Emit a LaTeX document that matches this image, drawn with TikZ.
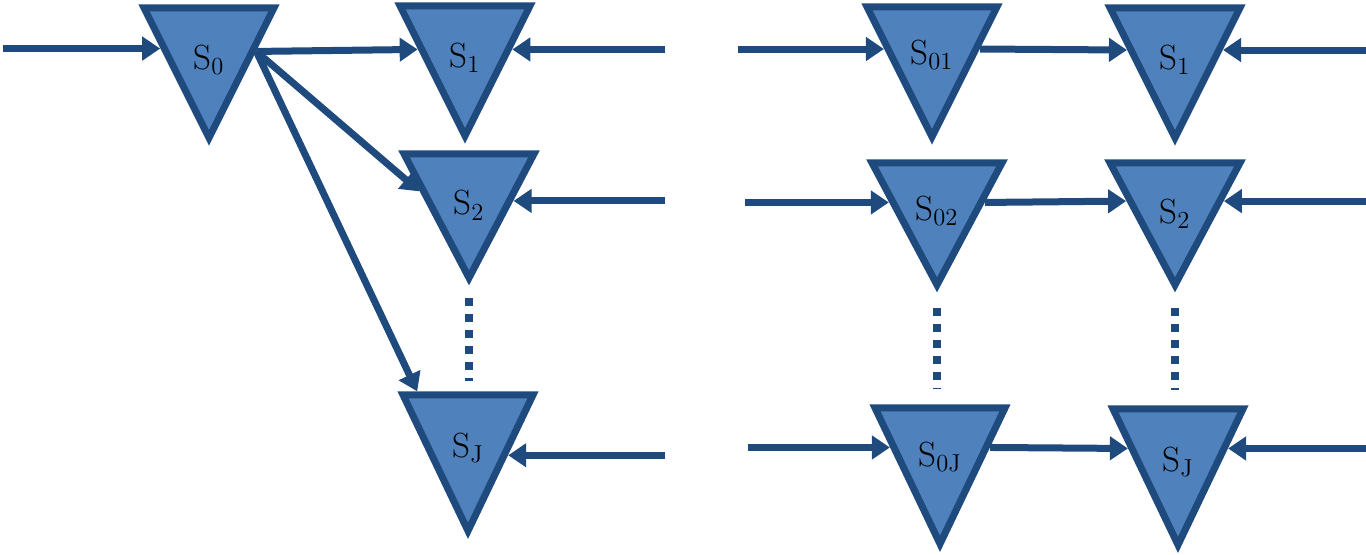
\documentclass[tikz,border=0pt]{standalone}
\usepackage{tikz}
\usetikzlibrary{calc, arrows.meta, shapes.geometric}
\definecolor{relleno}{HTML}{4F81BD}
\definecolor{borde}{HTML}{1F4A7E}
\newcommand{\etq}[1]{\raisebox{-15.5pt}[0pt][0pt]{S\textsubscript{#1}}}

\begin{document}
\begin{tikzpicture}[
    x=0.5pt, y=-0.5pt,
    % Estilos de los triangulos y flechas
    estado/.style={isosceles triangle, isosceles triangle stretches, shape border rotate=270, draw=borde, fill=relleno, line width=3.5pt, minimum width=65pt, minimum height=65pt, inner sep=0pt, anchor=apex, font=\fontsize{17.5}{20}\selectfont},
    flecha/.style={line width=3.5pt, draw=borde, -{Triangle[length=9pt, width=11.5pt]}},
    puntos/.style={line width=4pt, draw=borde, dash pattern=on 4pt off 4pt}
    ]
    \useasboundingbox (0,0) rectangle (1366,554);

    % Nodos (izquierda)
    \node (s0) [estado] at (209,147) {\etq{0}};
    \node (s1) [estado] at (465,145) {\etq{1}};
    \node (s2) [estado, minimum height=62pt] at (469,287) {\etq{2}};
    \node (sj) [estado, minimum height=68pt] at (468,540) {\etq{J}};

    % Nodos (derecha)
    \node (s01) [estado] at (932,146) {\etq{01}};
    \node (s1d) [estado] at (1175,147) {\etq{1}};
    \node (s02) [estado, minimum height=61pt] at (937,294) {\etq{02}};
    \node (s2d) [estado, minimum height=61pt] at (1175,294) {\etq{2}};
    \node (s0j) [estado, minimum height=68pt] at (940,553) {\etq{0J}};
    \node (sjd) [estado, minimum height=68pt] at (1178,554) {\etq{J}};

    % Puntos de entrada sobre los lados
    \foreach \n/\fw/\fe in {s0/0.69/0.67, s1/0.67/0.67, s2/0.70/0.63, sj/0.57/0.57, s01/0.68/0.68, s1d/0.68/0.68, s02/0.68/0.68, s2d/0.69/0.69, s0j/0.71/0.71, sjd/0.71/0.71} {
        \coordinate (\n-w) at ($(\n.apex)!\fw!(\n.right corner)$);
        \coordinate (\n-e) at ($(\n.apex)!\fe!(\n.left corner)$);
    }
    \coordinate (sj-n) at ($(sj.right corner)!0.14!(sj.left corner)$);

    % Extremos libres
    \coordinate (e0) at (3,0 |- s0-w);
    \coordinate (e1) at (665,0 |- s1-e);
    \coordinate (e2) at (665,0 |- s2-e);
    \coordinate (ej) at (665,0 |- sj-e);
    \coordinate (e01) at (738,0 |- s01-w);
    \coordinate (e1d) at (1366,0 |- s1d-e);
    \coordinate (e02) at (745,0 |- s02-w);
    \coordinate (e2d) at (1366,0 |- s2d-e);
    \coordinate (e0j) at (748,0 |- s0j-w);
    \coordinate (ejd) at (1366,0 |- sjd-e);

    % Conexiones (izquierda)
    \draw [flecha] (e0) -- (s0-w);
    \draw [flecha] (s0-e) -- (s1-w);
    \draw [flecha] (s0-e) -- (s2-w);
    \draw [flecha] (s0-e) -- (sj-n);
    \draw [flecha] (e1) -- (s1-e);
    \draw [flecha] (e2) -- (s2-e);
    \draw [flecha] (ej) -- (sj-e);
    \draw [puntos, shorten <=5.5pt, shorten >=5pt] (s2.apex) -- (s2.apex |- sj-n);

    % Conexiones (derecha)
    \draw [flecha] (e01) -- (s01-w);
    \draw [flecha] (s01-e) -- (s1d-w);
    \draw [flecha] (e1d) -- (s1d-e);
    \draw [flecha] (e02) -- (s02-w);
    \draw [flecha] (s02-e) -- (s2d-w);
    \draw [flecha] (e2d) -- (s2d-e);
    \draw [flecha] (e0j) -- (s0j-w);
    \draw [flecha] (s0j-e) -- (sjd-w);
    \draw [flecha] (ejd) -- (sjd-e);
    \draw [puntos, shorten <=7pt, shorten >=7.5pt] (s02.apex) -- (s02.apex |- s0j.left corner);
    \draw [puntos, shorten <=7pt, shorten >=7.5pt] (s2d.apex) -- (s2d.apex |- sjd.left corner);

\end{tikzpicture}
\end{document}
